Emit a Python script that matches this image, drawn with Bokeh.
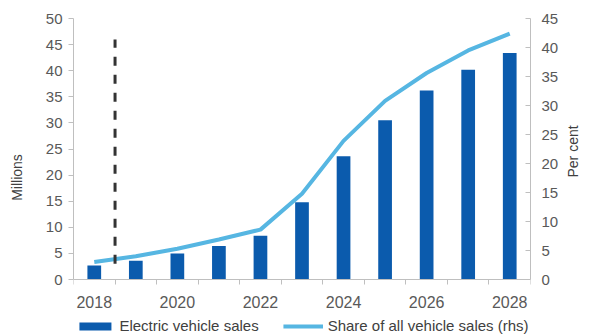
import math
from bokeh.plotting import figure
from bokeh.models import (ColumnDataSource, LinearAxis, Range1d, FixedTicker,
                          Legend, LegendItem)
from bokeh.embed import file_html
from bokeh.resources import INLINE

years = [2018, 2019, 2020, 2021, 2022, 2023, 2024, 2025, 2026, 2027, 2028]
ev_sales_millions = [2.7, 3.6, 5.0, 6.4, 8.4, 14.8, 23.6, 30.5, 36.2, 40.2, 43.4]
share_percent = [3.0, 4.0, 5.3, 6.9, 8.6, 14.8, 23.9, 30.8, 35.6, 39.5, 42.4]
x_tick_labels = [2018, 2020, 2022, 2024, 2026, 2028]
left_ticks = [0, 5, 10, 15, 20, 25, 30, 35, 40, 45, 50]
right_ticks = [0, 5, 10, 15, 20, 25, 30, 35, 40, 45]
forecast_marker_x = 2018.5
forecast_marker_y = [3.0, 46.0]

BAR = "#0B5BAD"
LINE = "#56B6E2"
AXIS = "#BFBFBF"
TEXT = "#595959"
FONT = "Liberation Sans"

W, H = 592, 336
TOP, LEFT, RIGHT = 18, 73, 54
AXIS_PX = 261                      # height of the 0..max span of the value axes
frame_h = H - TOP
below_px = frame_h - AXIS_PX
lmax, rmax = 50.0, 45.0
lmin = -below_px * lmax / AXIS_PX
rmin = -below_px * rmax / AXIS_PX

p = figure(width=W, height=H, output_backend="svg", toolbar_location=None,
           x_range=Range1d(2017.5, 2028.5), y_range=Range1d(lmin, lmax),
           min_border_left=LEFT, min_border_right=RIGHT, min_border_top=TOP,
           min_border_bottom=0)
p.extra_y_ranges = {"pct": Range1d(rmin, rmax)}
p.outline_line_color = None
p.grid.grid_line_color = None
p.background_fill_color = "white"
p.border_fill_color = "white"

src = ColumnDataSource(dict(x=years, ev=ev_sales_millions, share=share_percent))
bars = p.vbar(x="x", top="ev", width=0.33, source=src, fill_color=BAR, line_color=None)
line = p.line(x="x", y="share", source=src, y_range_name="pct", line_color=LINE,
              line_width=4)

p.segment(x0=[forecast_marker_x], y0=[forecast_marker_y[0]],
          x1=[forecast_marker_x], y1=[forecast_marker_y[1]],
          line_color="#333333", line_width=3, line_dash="9 9")

minor = [y - 0.5 for y in years] + [years[-1] + 0.5]
xa = p.xaxis[0]
xa.fixed_location = 0
xa.ticker = FixedTicker(ticks=x_tick_labels, minor_ticks=minor)
xa.major_tick_out = 0
xa.major_tick_in = 0
xa.minor_tick_out = 5
xa.minor_tick_in = 0
xa.minor_tick_line_color = AXIS

ya = p.yaxis[0]
ya.ticker = FixedTicker(ticks=left_ticks)
ya.bounds = (0, lmax)
ya.axis_label = "Millions"
ya.minor_tick_line_color = None
ya.major_tick_out = 5
ya.major_tick_in = 0

ra = LinearAxis(y_range_name="pct", ticker=FixedTicker(ticks=right_ticks),
                axis_label="Per cent", bounds=(0, rmax))
ra.minor_tick_line_color = None
ra.major_tick_out = 0
ra.major_tick_in = 5
ra.axis_label_orientation = math.pi / 2
p.add_layout(ra, "right")

for ax in [xa, ya, ra]:
    ax.axis_line_color = AXIS
    ax.major_tick_line_color = AXIS
    ax.major_label_text_font = FONT
    ax.major_label_text_font_size = "15px"
    ax.major_label_text_color = TEXT
    ax.axis_label_text_font = FONT
    ax.axis_label_text_font_size = "14px"
    ax.axis_label_text_font_style = "normal"
    ax.axis_label_text_color = "#404040"
    ax.major_label_standoff = 6
xa.major_label_text_font_size = "16px"
xa.major_label_standoff = 11
ya.axis_label_standoff = 18
ra.major_label_standoff = 11
ra.axis_label_standoff = 12

legend = Legend(items=[LegendItem(label="Electric vehicle sales", renderers=[bars]),
                       LegendItem(label="Share of all vehicle sales (rhs)", renderers=[line])],
                orientation="horizontal", location="bottom_center",
                label_text_font=FONT, label_text_font_size="15px",
                label_text_color="#404040", glyph_width=40, glyph_height=10,
                spacing=24, padding=2, margin=2, border_line_color=None,
                background_fill_alpha=0, label_standoff=5)
p.add_layout(legend)

open("out.html", "w").write(file_html(p, INLINE))
